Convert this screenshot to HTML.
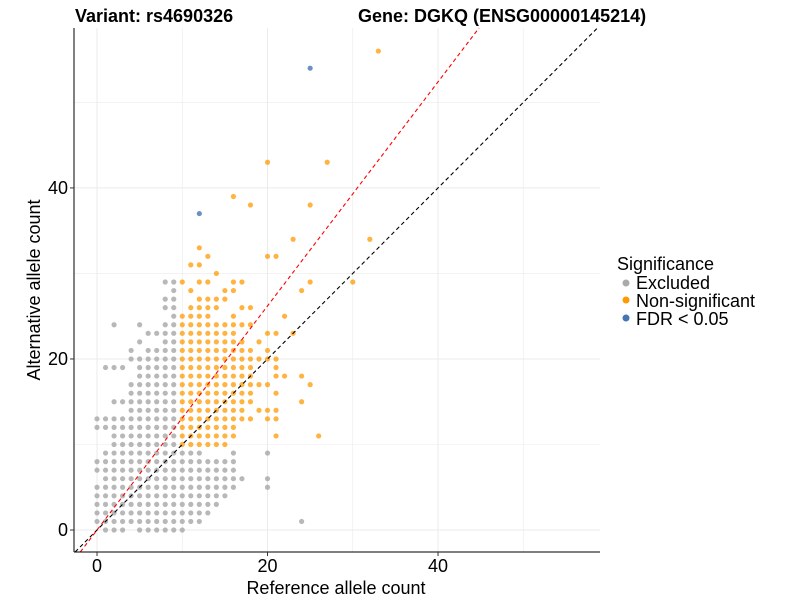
<!DOCTYPE html>
<html><head><meta charset="utf-8"><style>
body{margin:0;background:#fff;font-family:"Liberation Sans",sans-serif}
svg text{font-family:"Liberation Sans",sans-serif}
</style></head><body>
<svg id="chart" width="800" height="600">
<text x="75" y="22" font-size="18" font-weight="bold">Variant: rs4690326</text>
<text x="358" y="22" font-size="18" font-weight="bold">Gene: DGKQ (ENSG00000145214)</text>
<g id="grid"></g><g id="pts"></g><g id="lines"></g><g id="axes"></g>
<text x="336" y="594" font-size="18" text-anchor="middle">Reference allele count</text>
<text transform="translate(40,290) rotate(-90)" font-size="18" text-anchor="middle">Alternative allele count</text>
<g>
<text x="617" y="270" font-size="18">Significance</text>
<circle cx="626" cy="283" r="3.5" fill="#aaaaaa"/>
<text x="636" y="289" font-size="18">Excluded</text>
<circle cx="626" cy="300" r="3.5" fill="#ff9900"/>
<text x="636" y="307" font-size="18">Non-significant</text>
<circle cx="626" cy="318" r="3.5" fill="#4575b4"/>
<text x="636" y="325" font-size="18">FDR &lt; 0.05</text>
</g>
</svg>
<script>
// columns: [x, ranges [[lo,hi],...], extra y values]
const greyColumns = [
 [0,[[1,5],[7,8],[12,13]],[]],
 [1,[[0,9],[12,13]],[19]],
 [2,[[0,13]],[15,19,24]],
 [3,[[0,13]],[15,19]],
 [4,[[1,17]],[20,21]],
 [5,[[0,20]],[22,24]],
 [6,[[0,21]],[23]],
 [7,[[0,21]],[23]],
 [8,[[0,24]],[26,27,29]],
 [9,[[0,28]],[29]],
 [10,[[0,9]],[]],
 [11,[[1,9]],[]],
 [12,[[1,9]],[]],
 [13,[[2,8]],[]],
 [14,[[3,8]],[]],
 [15,[[4,8]],[]],
 [16,[[5,9]],[]],
 [17,[],[6]],
 [20,[],[5,6,9]],
 [24,[],[1]]
];
const orangeColumns = [
 [10,[[10,25]],[29]],
 [11,[[10,26]],[28,31]],
 [12,[[10,27]],[29,31,33]],
 [13,[[10,27]],[29,32]],
 [14,[[10,24]],[26,27,30]],
 [15,[[10,24]],[27,28]],
 [16,[[11,24]],[25,28,29,39]],
 [17,[[13,22]],[24,26,29]],
 [18,[[15,21]],[13,24,26,38]],
 [19,[],[14,17,20,22]],
 [20,[],[13,14,17,20,21,23,32,43]],
 [21,[],[11,13,14,16,18,19,20,23,32]],
 [22,[],[18,25]],
 [23,[],[23,34]],
 [24,[],[15,18,28]],
 [25,[],[17,29,38]],
 [26,[],[11]],
 [27,[],[43]],
 [30,[],[29]],
 [32,[],[34]],
 [33,[],[56]]
];
const blueX = [25,12];
const blueY = [54,37];
const xTicks = [0,20,40];
const yTicks = [0,20,40];
const minorTicks = [10,30,50];
const redSlope = 1.31;

const L=74,R=600,T=28,B=552, xmin=-2.7,xmax=59.0,ymin=-2.57,ymax=58.7;
const sx=v=>L+(v-xmin)/(xmax-xmin)*(R-L);
const sy=v=>B-(v-ymin)/(ymax-ymin)*(B-T);
const NS='http://www.w3.org/2000/svg';
function mk(tag,attrs,parent){const e=document.createElementNS(NS,tag);for(const k in attrs)e.setAttribute(k,attrs[k]);parent.appendChild(e);return e;}
const grid=document.getElementById('grid'),pts=document.getElementById('pts'),lines=document.getElementById('lines'),axes=document.getElementById('axes');
minorTicks.concat(xTicks).forEach(v=>{
 const major=xTicks.includes(v);
 let e=mk('line',{x1:sx(v),x2:sx(v),y1:T,y2:B,stroke:'#ebebeb','stroke-width':major?1:0.6},grid);
 
 
 e=mk('line',{x1:L,x2:R,y1:sy(v),y2:sy(v),stroke:'#ebebeb','stroke-width':major?1:0.6},grid);
 
 
});
function drawCols(cols,color,name){
 cols.forEach(c=>{
  const ys=[];
  c[1].forEach(r=>{for(let y=r[0];y<=r[1];y++)ys.push(y);});
  c[2].forEach(y=>ys.push(y));
  ys.forEach(y=>{
   const e=mk('circle',{cx:sx(c[0]),cy:sy(y),r:2.6,fill:color,'fill-opacity':0.75},pts);
   
   
  });
 });
}
drawCols(greyColumns,'#a0a0a0','excluded-point');
drawCols(orangeColumns,'#ff9900','nonsignificant-point');
blueX.forEach((x,i)=>{
 const e=mk('circle',{cx:sx(x),cy:sy(blueY[i]),r:2.6,fill:'#4575b4','fill-opacity':0.8},pts);
 
 
});
// diagonal lines clipped to panel
function clipLine(m){
 let x0=xmin,y0=m*x0; if(y0<ymin){y0=ymin;x0=ymin/m;}
 let x1=xmax,y1=m*x1; if(y1>ymax){y1=ymax;x1=ymax/m;}
 return {x1:sx(x0),y1:sy(y0),x2:sx(x1),y2:sy(y1)};
}
let ln=mk('line',Object.assign(clipLine(1),{stroke:'#000','stroke-width':1.1,'stroke-dasharray':'4,3'}),lines);


ln=mk('line',Object.assign(clipLine(redSlope),{stroke:'#ff0000','stroke-width':1.1,'stroke-dasharray':'4,3'}),lines);


let a=mk('line',{x1:L,x2:L,y1:T,y2:B,stroke:'#000','stroke-width':1},axes);


a=mk('line',{x1:L,x2:R,y1:B,y2:B,stroke:'#000','stroke-width':1},axes);


xTicks.forEach(v=>{
 let t=mk('line',{x1:sx(v),x2:sx(v),y1:B,y2:B+4,stroke:'#333'},axes);
 
 
 t=mk('text',{x:sx(v),y:B+20,'font-size':18,'text-anchor':'middle',fill:'#000'},axes);
 t.textContent=v;
 
 
});
yTicks.forEach(v=>{
 let t=mk('line',{x1:L-4,x2:L,y1:sy(v),y2:sy(v),stroke:'#333'},axes);
 
 
 t=mk('text',{x:L-6,y:sy(v)+6,'font-size':18,'text-anchor':'end',fill:'#000'},axes);
 t.textContent=v;
 
 
});
</script>
</body></html>
